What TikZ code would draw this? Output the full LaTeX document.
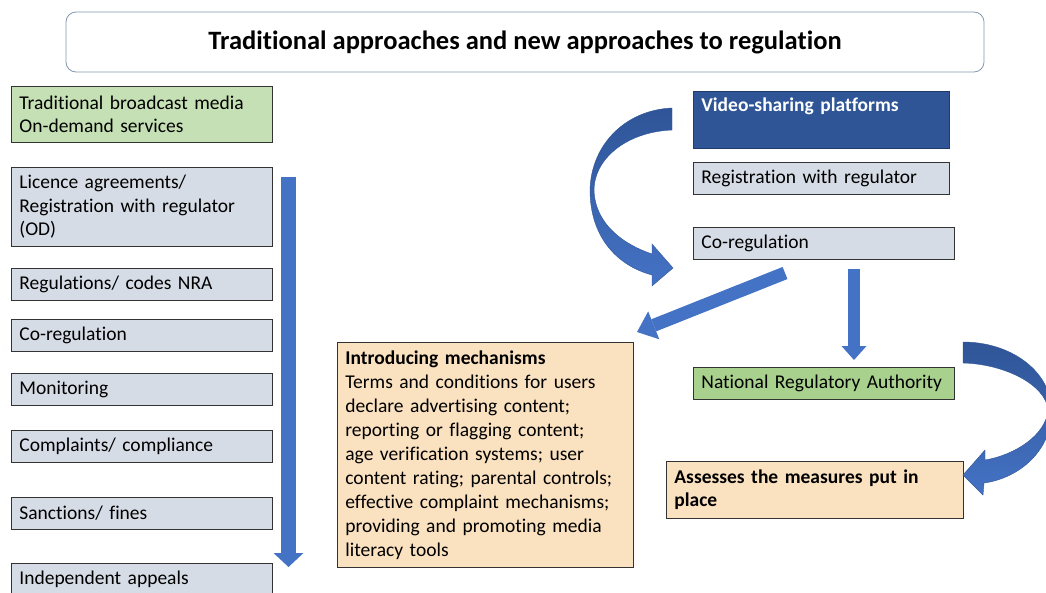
\documentclass[tikz,border=0pt]{standalone}
\usepackage{fontspec}
\setmainfont{Carlito}[Ligatures=NoCommon]
\usetikzlibrary{arrows.meta}
\definecolor{boxgray}{HTML}{D6DCE5}
\definecolor{lightgreen}{HTML}{C5E0B4}
\definecolor{midgreen}{HTML}{A9D18E}
\definecolor{peach}{HTML}{FAE1C0}
\definecolor{darkblue}{HTML}{2F5597}
\definecolor{midblue}{HTML}{4472C4}
\definecolor{titleline}{HTML}{8497B0}

\begin{document}
\begin{tikzpicture}[x=1pt,y=-1pt,
	box/.style={draw=black!80, line width=0.8pt, anchor=north west, align=left,
		inner xsep=8pt, inner ysep=0pt, text width=245pt, minimum height=32pt,
		font=\fontsize{19.5}{23.5}\selectfont},
	graybox/.style={box, fill=boxgray},
	blockline/.style={midblue, line width=#1},
	bendarrow/.style={top color=darkblue, bottom color=midblue, draw=darkblue, line width=0.4pt}]
			\useasboundingbox (0,0) rectangle (1046,592);
			% title
			\node[draw=titleline, line width=0.8pt, rounded corners=10pt, minimum width=918pt, minimum height=60pt,
				font=\bfseries\fontsize{26.5}{30}\selectfont] (title) at (525,42) {Traditional approaches and new approaches to regulation};
			% left column
			\node[box, fill=lightgreen, minimum height=56pt] (media) at (11,86) {Traditional broadcast media\\On-demand services};
			\node[graybox, minimum height=79pt] (licence) at (11,167) {Licence agreements/\\Registration with regulator\\(OD)};
			\node[graybox] (codes) at (11,268) {Regulations/ codes NRA};
			\node[graybox] (coreg) at (11,319) {Co-regulation};
			\node[graybox] (monitor) at (11,373) {Monitoring};
			\node[graybox] (complaints) at (11,430) {Complaints/ compliance};
			\node[graybox] (sanctions) at (11,497) {Sanctions/ fines};
			\node[graybox] (appeals) at (11,563) {Independent appeals};
			\coordinate (flowtop) at (288.5,177);
			\coordinate (flowend) at (288.5,567);
			\draw[blockline=15pt, -{Triangle[width=30pt,length=14pt,line width=0pt]}] (flowtop) -- (flowend);
			% right column
			\node[box, fill=darkblue, draw=darkblue!70!black, text=white, text width=240pt, minimum height=57pt,
				font=\bfseries\fontsize{19.5}{23.5}\selectfont] (vsp) at (693,91) {Video-sharing platforms\\\strut};
			\node[graybox, text width=240pt] (register) at (693,162) {Registration with regulator};
			\node[graybox] (vcoreg) at (693,227) {Co-regulation};
			\node[box, fill=midgreen] (nra) at (693,367) {National Regulatory Authority};
			\node[box, fill=peach, text width=281pt, minimum height=57pt,
				font=\bfseries\fontsize{19.5}{23.5}\selectfont] (assess) at (666,461) {Assesses the measures put in\\place};
			\node[box, fill=peach, text width=280pt, minimum height=225pt, font=\fontsize{19.5}{24}\selectfont] (mech) at (337,342)
				{\textbf{Introducing mechanisms}\\Terms and conditions for users\\declare advertising content;\\reporting or flagging content;\\age verification systems; user\\content rating; parental controls;\\effective complaint mechanisms;\\providing and promoting media\\literacy tools};
			% arrows
			\coordinate (mtail) at (785,273);
			\coordinate (mtip) at (637,332);
			\draw[blockline=13pt, -{Triangle[width=30pt,length=18pt,line width=0pt]}] (mtail) -- (mtip);
			\coordinate (ntail) at (854,269);
			\coordinate (ntip) at (854,360);
			\draw[blockline=12pt, -{Triangle[width=25pt,length=14pt,line width=0pt]}] (ntail) -- (ntip);
			\path[bendarrow] (672,108) .. controls (625,110) and (591,145) .. (590,190)
				.. controls (590,235) and (615,265) .. (652,275) -- (652,286) -- (673,268) -- (652,244) -- (652,254)
				.. controls (625,245) and (595,225) .. (594,190) .. controls (594,160) and (625,132) .. (672,130) -- cycle;
			\path[bendarrow] (963,342) .. controls (1010,342) and (1050,370) .. (1052,410)
				.. controls (1052,450) and (1020,478) .. (984,483) -- (983,495) -- (963,475) -- (985,450) -- (985,460)
				.. controls (1015,455) and (1046,435) .. (1048,410) .. controls (1046,385) and (1005,364) .. (963,363) -- cycle;
		\end{tikzpicture}
\end{document}
